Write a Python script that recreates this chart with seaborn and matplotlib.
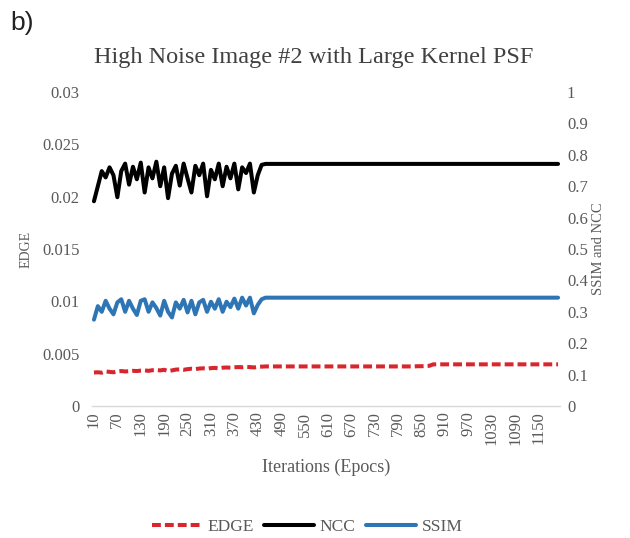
import matplotlib
matplotlib.use("Agg")
import matplotlib.pyplot as plt
import seaborn as sns
import pandas as pd

# ---------------- data ----------------
epochs = list(range(10, 1201, 10))

edge = [
    0.00320, 0.00322, 0.00318, 0.00330, 0.00326, 0.00322, 0.00330, 0.00334, 0.00330, 0.00332,
    0.00336, 0.00334, 0.00338, 0.00340, 0.00336, 0.00342, 0.00344, 0.00340, 0.00346, 0.00334,
    0.00340, 0.00348, 0.00350, 0.00346, 0.00352, 0.00356, 0.00352, 0.00358, 0.00360, 0.00356,
    0.00362, 0.00364, 0.00360, 0.00366, 0.00368, 0.00366, 0.00370, 0.00372, 0.00370, 0.00374,
    0.00372, 0.00368, 0.00374,
    0.00376, 0.00378, 0.00378, 0.00378, 0.00378, 0.00378, 0.00378, 0.00378, 0.00378, 0.00378,
    0.00378, 0.00378, 0.00378, 0.00378, 0.00378, 0.00378, 0.00378, 0.00378, 0.00378, 0.00378,
    0.00378, 0.00378, 0.00378, 0.00378, 0.00378, 0.00378, 0.00378, 0.00378, 0.00378, 0.00378,
    0.00378, 0.00378, 0.00378, 0.00378, 0.00378, 0.00378, 0.00378, 0.00378, 0.00378, 0.00378,
    0.00380, 0.00380, 0.00382, 0.00384,
    0.00398, 0.00398, 0.00398, 0.00398, 0.00398, 0.00398, 0.00398, 0.00398, 0.00398, 0.00398,
    0.00398, 0.00398, 0.00398, 0.00398, 0.00398, 0.00398, 0.00398, 0.00398, 0.00398, 0.00398,
    0.00398, 0.00398, 0.00398, 0.00398, 0.00398, 0.00398, 0.00398, 0.00398, 0.00398, 0.00398,
    0.00398, 0.00398, 0.00398,
]

ncc = [
    0.652, 0.700, 0.748, 0.728, 0.760, 0.735, 0.665, 0.748, 0.772, 0.705,
    0.762, 0.722, 0.775, 0.680, 0.760, 0.725, 0.778, 0.700, 0.760, 0.662,
    0.740, 0.765, 0.702, 0.772, 0.725, 0.680, 0.765, 0.735, 0.772, 0.668,
    0.752, 0.722, 0.772, 0.700, 0.762, 0.725, 0.772, 0.690, 0.760, 0.742,
    0.772, 0.680, 0.735,
    0.768, 0.771, 0.771, 0.771, 0.771, 0.771, 0.771, 0.771, 0.771, 0.771,
    0.771, 0.771, 0.771, 0.771, 0.771, 0.771, 0.771, 0.771, 0.771, 0.771,
    0.771, 0.771, 0.771, 0.771, 0.771, 0.771, 0.771, 0.771, 0.771, 0.771,
    0.771, 0.771, 0.771, 0.771, 0.771, 0.771, 0.771, 0.771, 0.771, 0.771,
    0.771, 0.771, 0.771, 0.771, 0.771, 0.771, 0.771, 0.771, 0.771, 0.771,
    0.771, 0.771, 0.771, 0.771, 0.771, 0.771, 0.771, 0.771, 0.771, 0.771,
    0.771, 0.771, 0.771, 0.771, 0.771, 0.771, 0.771, 0.771, 0.771, 0.771,
    0.771, 0.771, 0.771, 0.771, 0.771, 0.771, 0.771,
]

ssim = [
    0.275, 0.318, 0.300, 0.335, 0.310, 0.292, 0.330, 0.340, 0.300, 0.335,
    0.310, 0.290, 0.335, 0.340, 0.300, 0.330, 0.312, 0.288, 0.335, 0.300,
    0.282, 0.330, 0.310, 0.338, 0.298, 0.335, 0.292, 0.330, 0.338, 0.300,
    0.332, 0.310, 0.340, 0.300, 0.332, 0.315, 0.342, 0.310, 0.345, 0.320,
    0.345, 0.295, 0.322,
    0.340, 0.345, 0.345, 0.345, 0.345, 0.345, 0.345, 0.345, 0.345, 0.345,
    0.345, 0.345, 0.345, 0.345, 0.345, 0.345, 0.345, 0.345, 0.345, 0.345,
    0.345, 0.345, 0.345, 0.345, 0.345, 0.345, 0.345, 0.345, 0.345, 0.345,
    0.345, 0.345, 0.345, 0.345, 0.345, 0.345, 0.345, 0.345, 0.345, 0.345,
    0.345, 0.345, 0.345, 0.345, 0.345, 0.345, 0.345, 0.345, 0.345, 0.345,
    0.345, 0.345, 0.345, 0.345, 0.345, 0.345, 0.345, 0.345, 0.345, 0.345,
    0.345, 0.345, 0.345, 0.345, 0.345, 0.345, 0.345, 0.345, 0.345, 0.345,
    0.345, 0.345, 0.345, 0.345, 0.345, 0.345, 0.345,
]

xtick_labels = ["10", "70", "130", "190", "250", "310", "370", "430", "490", "550",
                "610", "670", "730", "790", "850", "910", "970", "1030", "1090", "1150"]
left_ticks = [0, 0.005, 0.01, 0.015, 0.02, 0.025, 0.03]
left_tick_labels = ["0", "0.005", "0.01", "0.015", "0.02", "0.025", "0.03"]
right_ticks = [0, 0.1, 0.2, 0.3, 0.4, 0.5, 0.6, 0.7, 0.8, 0.9, 1.0]
right_tick_labels = ["0", "0.1", "0.2", "0.3", "0.4", "0.5", "0.6", "0.7", "0.8", "0.9", "1"]

df = pd.DataFrame({"Epoch": epochs, "EDGE": edge, "NCC": ncc, "SSIM": ssim})

# ---------------- style ----------------
sns.set_style("white")
plt.rcParams["font.family"] = ["Liberation Serif", "DejaVu Serif"]
GRAY = "#595959"

W, H = 630, 538
fig = plt.figure(figsize=(W / 100, H / 100), dpi=100)
ax = fig.add_axes([92 / W, 1 - 406 / H, (560 - 92) / W, (406 - 92) / H])
ax2 = ax.twinx()

RED = "#d8262e"
BLUE = "#2e75b6"
LW = 2.9

sns.lineplot(data=df, x="Epoch", y="EDGE", ax=ax, color=RED, lw=LW,
             linestyle=(0, (2.2, 1.0)), label="EDGE", legend=False)
sns.lineplot(data=df, x="Epoch", y="NCC", ax=ax2, color="black", lw=LW,
             label="NCC", legend=False)
sns.lineplot(data=df, x="Epoch", y="SSIM", ax=ax2, color=BLUE, lw=LW,
             label="SSIM", legend=False)

ax.set_xlim(5, 1205)
ax.set_ylim(0, 0.03)
ax2.set_ylim(0, 1.0)

tick_pos = [int(t) for t in xtick_labels]
ax.set_xticks(tick_pos)
ax.set_xticklabels(xtick_labels, rotation=90, fontsize=12, color=GRAY)
ax.set_yticks(left_ticks)
ax.set_yticklabels(left_tick_labels, fontsize=12, color=GRAY)
ax2.set_yticks(right_ticks)
ax2.set_yticklabels(right_tick_labels, fontsize=12, color=GRAY)

ax.tick_params(axis="x", length=0, pad=4)
ax.tick_params(axis="y", length=0, pad=9)
ax2.tick_params(axis="y", length=0, pad=5)

for a in (ax, ax2):
    for s in ("top", "left", "right"):
        a.spines[s].set_visible(False)
    a.grid(False)
ax.spines["bottom"].set_color("#d9d9d9")
ax.spines["bottom"].set_linewidth(1.0)
ax2.spines["bottom"].set_visible(False)

ax.set_xlabel("Iterations (Epocs)", fontsize=13, color=GRAY, labelpad=10)
ax.set_ylabel("EDGE", fontsize=10, color=GRAY, labelpad=7)
ax2.set_ylabel("SSIM and NCC", fontsize=10.5, color=GRAY, rotation=90, labelpad=3)

fig.text(314 / W, 1 - 58 / H, "High Noise Image #2 with Large Kernel PSF",
         ha="center", va="center", fontsize=17.5, color="#404040")
fig.text(10 / W, 1 - 23 / H, "b)", ha="left", va="center", fontsize=19,
         color="#222222", family=["Liberation Sans", "DejaVu Sans"])

h1, l1 = ax.get_legend_handles_labels()
h2, l2 = ax2.get_legend_handles_labels()
fig.legend(h1 + h2, l1 + l2, loc="center", bbox_to_anchor=(307 / W, 1 - 527 / H),
           ncol=3, frameon=False, fontsize=12.5, labelcolor=GRAY,
           handlelength=2.9, handletextpad=0.3, columnspacing=0.6)

fig.savefig("out.png", dpi=100)
